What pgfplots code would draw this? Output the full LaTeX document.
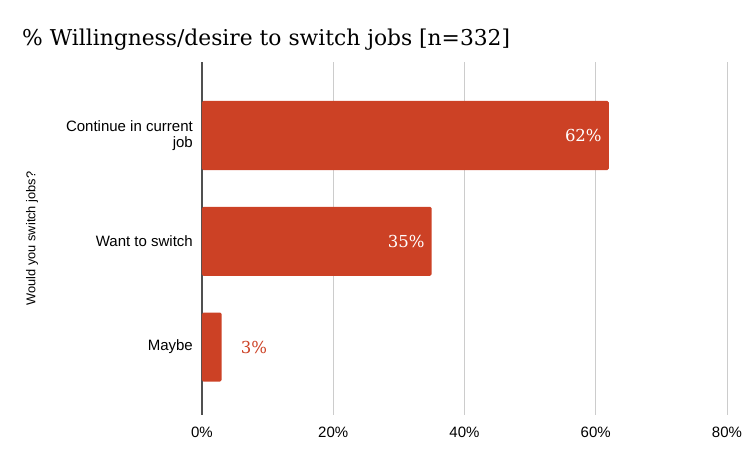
\documentclass[border=0pt]{standalone}
\usepackage{pgfplots}
\pgfplotsset{compat=1.18}
\usepackage{fontspec}
\setmainfont{DejaVu Serif}
\newfontfamily\arial{Liberation Sans}
\definecolor{barred}{RGB}{204,65,37}
\definecolor{gridgray}{RGB}{204,204,204}
\definecolor{axisdark}{RGB}{80,80,80}
\begin{document}
\begin{tikzpicture}
\useasboundingbox (0,0) rectangle (750pt,463pt);
\node[anchor=base west, inner sep=0pt, font=\fontsize{21.8}{26}\selectfont] at (22pt,417pt) {\% Willingness/desire to switch jobs [n=332]};
\begin{axis}[
  at={(202pt,48pt)}, anchor=south west,
  scale only axis, width=525pt, height=353pt,
  xbar, bar width=69pt,
  xmin=0, xmax=80,
  ymin=-0.695, ymax=2.643, y dir=reverse,
  ytick={0,1,2},
  yticklabels={{Continue in current\\job},{Want to switch},{Maybe}},
  yticklabel style={align=right, inner sep=0pt, xshift=-9pt, font=\arial\fontsize{15}{15.5}\selectfont},
  xtick={20,40,60,80},
  extra x ticks={0},
  extra x tick style={grid style={draw=axisdark, line width=1.2pt}},
  xticklabel={\pgfmathprintnumber{\tick}\%},
  xticklabel style={inner sep=0pt, yshift=-12pt, font=\arial\fontsize{15}{17}\selectfont},
  /pgf/number format/assume math mode=true,
  xmajorgrids, grid style={draw=gridgray, line width=1pt},
  major tick length=0pt,
  axis line style={draw=none},
  ylabel={Would you switch jobs?},
  ylabel style={at={(axis description cs:-0.3238,0.5)}, anchor=center, rotate=0, font=\arial\fontsize{12.8}{15}\selectfont},
  point meta=x,
  clip=false,
]
\addplot[fill=barred, draw=none, bar shift=0pt, rounded corners=1.5pt,
  nodes near coords={\pgfmathprintnumber{\pgfplotspointmeta}\%},
  every node near coord/.append style={anchor=east, inner sep=0pt, xshift=-7pt, text=white, font=\fontsize{16.5}{20}\selectfont}]
  coordinates {(62,0) (35,1)};
\addplot[fill=barred, draw=none, bar shift=0pt, rounded corners=1.5pt,
  nodes near coords={\pgfmathprintnumber{\pgfplotspointmeta}\%},
  every node near coord/.append style={anchor=west, inner sep=0pt, xshift=19pt, text=barred, font=\fontsize{16.5}{20}\selectfont}]
  coordinates {(3,2)};
\end{axis}
\end{tikzpicture}
\end{document}
